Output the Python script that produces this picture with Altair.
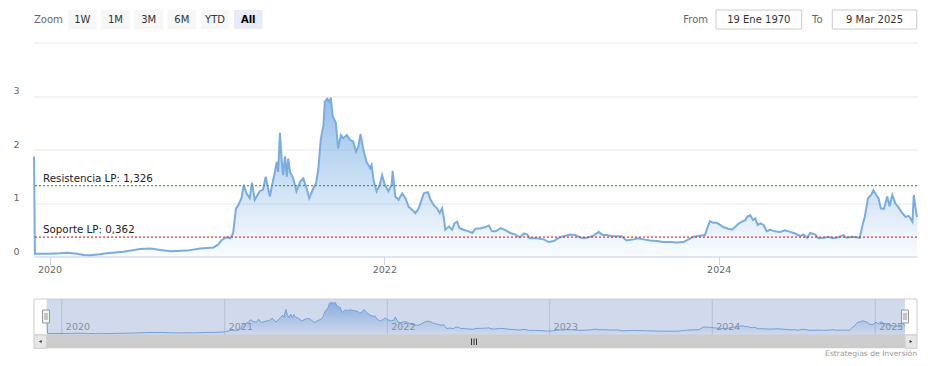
import altair as alt
import pandas as pd

# ---------------- data ----------------
dates = [
    "2019-11-28", "2019-11-30", "2020-01-02", "2020-01-24", "2020-02-08", "2020-03-01", "2020-03-16",
    "2020-03-30", "2020-04-20", "2020-05-05", "2020-06-10", "2020-07-17", "2020-08-08", "2020-08-30",
    "2020-09-21", "2020-10-27", "2020-11-25", "2020-12-24", "2021-01-03", "2021-01-11", "2021-01-22",
    "2021-01-29", "2021-02-02", "2021-02-05", "2021-02-11", "2021-02-16", "2021-02-23", "2021-02-28",
    "2021-03-06", "2021-03-13", "2021-03-18", "2021-03-24", "2021-04-04", "2021-04-11", "2021-04-17",
    "2021-04-21", "2021-04-26", "2021-05-01", "2021-05-07", "2021-05-11", "2021-05-14", "2021-05-18",
    "2021-05-22", "2021-05-25", "2021-05-29", "2021-06-02", "2021-06-05", "2021-06-09", "2021-06-16",
    "2021-06-23", "2021-07-01", "2021-07-08", "2021-07-15", "2021-07-21", "2021-07-30", "2021-08-05",
    "2021-08-10", "2021-08-15", "2021-08-21", "2021-08-24", "2021-08-29", "2021-09-03", "2021-09-06",
    "2021-09-10", "2021-09-17", "2021-09-22", "2021-09-28", "2021-10-03", "2021-10-11", "2021-10-18",
    "2021-10-25", "2021-10-31", "2021-11-05", "2021-11-10", "2021-11-16", "2021-11-23", "2021-12-01",
    "2021-12-04", "2021-12-09", "2021-12-15", "2021-12-22", "2021-12-27", "2022-01-02", "2022-01-10",
    "2022-01-17", "2022-01-19", "2022-01-25", "2022-02-01", "2022-02-09", "2022-02-16", "2022-02-23",
    "2022-03-03", "2022-03-10", "2022-03-17", "2022-03-28", "2022-04-06", "2022-04-12", "2022-04-19",
    "2022-04-26", "2022-05-02", "2022-05-07", "2022-05-11", "2022-05-14", "2022-05-22", "2022-05-29",
    "2022-06-03", "2022-06-09", "2022-06-14", "2022-06-23", "2022-07-04", "2022-07-12", "2022-07-19",
    "2022-07-30", "2022-08-10", "2022-08-17", "2022-08-24", "2022-09-01", "2022-09-12", "2022-09-23",
    "2022-10-03", "2022-10-14", "2022-10-24", "2022-11-02", "2022-11-09", "2022-11-14", "2022-11-30",
    "2022-12-15", "2022-12-26", "2023-01-06", "2023-01-17", "2023-01-28", "2023-02-11", "2023-02-21",
    "2023-03-04", "2023-03-12", "2023-03-23", "2023-04-03", "2023-04-14", "2023-04-22", "2023-05-02",
    "2023-05-13", "2023-05-24", "2023-06-03", "2023-06-14", "2023-06-29", "2023-07-10", "2023-07-21",
    "2023-08-04", "2023-08-19", "2023-09-02", "2023-09-17", "2023-10-01", "2023-10-16", "2023-10-27",
    "2023-11-07", "2023-11-21", "2023-12-02", "2023-12-07", "2023-12-13", "2023-12-20", "2023-12-28",
    "2024-01-04", "2024-01-11", "2024-01-22", "2024-01-30", "2024-02-06", "2024-02-13", "2024-02-21",
    "2024-02-28", "2024-03-04", "2024-03-10", "2024-03-16", "2024-03-21", "2024-03-26", "2024-04-01",
    "2024-04-08", "2024-04-15", "2024-04-22", "2024-05-03", "2024-05-14", "2024-05-25", "2024-06-05",
    "2024-06-16", "2024-06-27", "2024-07-04", "2024-07-12", "2024-07-19", "2024-07-30", "2024-08-06",
    "2024-08-17", "2024-08-28", "2024-09-07", "2024-09-18", "2024-09-29", "2024-10-06", "2024-10-17",
    "2024-10-28", "2024-11-04", "2024-11-10", "2024-11-15", "2024-11-22", "2024-11-29", "2024-12-04",
    "2024-12-10", "2024-12-15", "2024-12-20", "2024-12-27", "2025-01-03", "2025-01-08", "2025-01-14",
    "2025-01-21", "2025-01-29", "2025-02-05", "2025-02-12", "2025-02-19", "2025-02-27", "2025-03-02",
    "2025-03-05", "2025-03-09",
]
prices = [
    1.87, 0.05, 0.05, 0.06, 0.07, 0.05, 0.03,
    0.025, 0.04, 0.06, 0.09, 0.14, 0.15, 0.12,
    0.10, 0.11, 0.15, 0.17, 0.22, 0.31, 0.36,
    0.34, 0.38, 0.45, 0.90, 0.96, 1.09, 1.34,
    1.18, 1.09, 1.38, 1.06, 1.22, 1.25, 1.49,
    1.31, 1.12, 1.34, 1.58, 1.77, 1.58, 2.31,
    1.77, 1.52, 1.87, 1.49, 1.83, 1.58, 1.46,
    1.22, 1.40, 1.46, 1.28, 1.09, 1.28, 1.37,
    1.65, 2.18, 2.46, 2.89, 2.95, 2.89, 2.97,
    2.63, 2.50, 2.02, 2.27, 2.21, 2.27, 2.18,
    2.15, 1.96, 2.05, 2.29, 2.00, 1.77, 1.65,
    1.71, 1.40, 1.22, 1.34, 1.52, 1.34, 1.22,
    1.34, 1.60, 1.12, 1.06, 1.18, 1.09, 0.93,
    0.87, 0.81, 0.90, 1.18, 1.20, 1.06, 0.96,
    0.90, 0.81, 0.90, 0.71, 0.50, 0.56, 0.50,
    0.62, 0.65, 0.53, 0.50, 0.47, 0.44, 0.52,
    0.53, 0.55, 0.58, 0.47, 0.47, 0.53, 0.49,
    0.44, 0.41, 0.36, 0.43, 0.41, 0.34, 0.34,
    0.32, 0.27, 0.29, 0.35, 0.38, 0.41, 0.40,
    0.36, 0.34, 0.36, 0.39, 0.46, 0.40, 0.40,
    0.38, 0.38, 0.38, 0.30, 0.32, 0.34, 0.32,
    0.30, 0.29, 0.27, 0.27, 0.26, 0.27, 0.32,
    0.37, 0.39, 0.40, 0.53, 0.66, 0.63, 0.63,
    0.59, 0.55, 0.52, 0.50, 0.55, 0.61, 0.65,
    0.68, 0.75, 0.77, 0.68, 0.71, 0.59, 0.62,
    0.59, 0.47, 0.50, 0.47, 0.46, 0.49, 0.46,
    0.43, 0.38, 0.41, 0.35, 0.44, 0.41, 0.34,
    0.35, 0.37, 0.34, 0.36, 0.40, 0.35, 0.37,
    0.36, 0.35, 0.59, 0.74, 1.09, 1.15, 1.24,
    1.15, 1.09, 0.90, 0.89, 1.12, 0.94, 1.15,
    0.99, 0.90, 0.81, 0.74, 0.76, 0.65, 1.15,
    0.95, 0.74,
]
resistance = 1.326
support = 0.362
resistance_label = "Resistencia LP: 1,326"
support_label = "Soporte LP: 0,362"
y_ticks = [0, 1, 2, 3, 4]
main_years = [2020, 2022, 2024]
nav_years = [2020, 2021, 2022, 2023, 2024, 2025]
buttons = ["1W", "1M", "3M", "6M", "YTD", "All"]
from_date = "19 Ene 1970"
to_date = "9 Mar 2025"
credits = "Estrategias de Inversión"

df = pd.DataFrame({"date": dates, "price": prices})
nav_df = pd.DataFrame({"year": [f"{y}-01-01" for y in nav_years]})
one = pd.DataFrame({"a": [0]})

FONT = "DejaVu Sans"
W, H = 883, 214

start = alt.DateTime(year=2019, month=11, date=28, utc=True)
end = alt.DateTime(year=2025, month=3, date=9, utc=True)
xscale = alt.Scale(type="utc", domain=[start, end])
yscale = alt.Scale(domain=[0, 4])

grad = alt.Gradient(
    gradient="linear",
    stops=[alt.GradientStop(color="rgba(124,176,228,0.04)", offset=0),
           alt.GradientStop(color="rgba(124,176,228,0.8)", offset=1)],
    x1=1, x2=1, y1=1, y2=0,
)
LINE = "#79ade2"

xaxis = alt.Axis(
    values=[alt.DateTime(year=y, month=1, date=1, utc=True) for y in main_years],
    labelExpr="utcFormat(datum.value, '%Y')", grid=False, domainColor="#ccd6eb",
    tickColor="#ccd6eb", tickSize=8, labelColor="#666666", labelFontSize=9.5,
    labelFont=FONT, labelPadding=0, title=None,
)
yaxis = alt.Axis(
    values=y_ticks, grid=True, gridColor="#e6e6e6", domain=False, ticks=False,
    labelExpr="datum.value == 4 ? '' : format(datum.value, 'd')", labelPadding=15,
    labelColor="#666666", labelFontSize=9.5, labelFont=FONT, labelBaseline="middle",
    labelOffset=-5.5, title=None,
)

base = alt.Chart(df)
area = base.mark_area(color=grad).encode(
    x=alt.X("date:T", scale=xscale, axis=xaxis), y=alt.Y("price:Q", scale=yscale, axis=yaxis))
line = base.mark_line(color=LINE, strokeWidth=2).encode(x="date:T", y="price:Q")

res_rule = alt.Chart(one).mark_rule(color="#3aaa3a", strokeDash=[2, 2], strokeWidth=1.3).encode(
    y=alt.datum(resistance))
sup_rule = alt.Chart(one).mark_rule(color="#e03535", strokeDash=[2, 2], strokeWidth=1.3).encode(
    y=alt.datum(support))
res_text = alt.Chart(one).mark_text(text=resistance_label, align="left", baseline="middle",
                                    dy=-6.5, font=FONT, fontSize=10.3, color="#222222").encode(
    x=alt.value(9), y=alt.datum(resistance))
sup_text = alt.Chart(one).mark_text(text=support_label, align="left", baseline="middle",
                                    dy=-6.8, font=FONT, fontSize=10.3, color="#222222").encode(
    x=alt.value(9), y=alt.datum(support))

main = alt.layer(area, line, res_rule, sup_rule, res_text, sup_text)

# ---------------- navigator ----------------
NAV_TOP, NAV_BOT = 256.5, 292.5
nxscale = alt.Scale(type="utc", domain=[start, end], range=[12.7, 871])
nyscale = alt.Scale(domain=[0, 3], range=[291.5, 259.5])

nav_grid = alt.Chart(nav_df).mark_rule(color="#d8d8d8", strokeWidth=1).encode(
    x=alt.X("year:T", scale=nxscale, axis=None), y=alt.value(NAV_TOP), y2=alt.value(NAV_BOT))
nav_area = alt.Chart(df).mark_area(color=grad).encode(
    x=alt.X("date:T", scale=nxscale, axis=None), y=alt.Y("price:Q", scale=nyscale, axis=None))
nav_line = alt.Chart(df).mark_line(color=LINE, strokeWidth=1).encode(
    x=alt.X("date:T", scale=nxscale, axis=None), y=alt.Y("price:Q", scale=nyscale, axis=None))
nav_mask = alt.Chart(one).mark_rect(fill="rgba(102,133,194,0.3)").encode(
    x=alt.value(12.7), x2=alt.value(871), y=alt.value(NAV_TOP), y2=alt.value(NAV_BOT))
nav_labels = alt.Chart(nav_df).mark_text(align="left", baseline="middle", dx=4, font=FONT,
                                         fontSize=9.5, color="#8a8f9a").encode(
    x=alt.X("year:T", scale=nxscale, axis=None), y=alt.value(284.5),
    text=alt.Text("year:T", timeUnit="utcyear", format="%Y"))

nav = alt.layer(nav_grid, nav_area, nav_line, nav_mask, nav_labels)


# ---------------- decorations ----------------
def rect(x1, x2, y1, y2, fill, stroke=None):
    kw = {"fill": fill}
    if stroke:
        kw["stroke"] = stroke
        kw["strokeWidth"] = 1
    return alt.Chart(one).mark_rect(**kw).encode(
        x=alt.value(x1), x2=alt.value(x2), y=alt.value(y1), y2=alt.value(y2))


def text(s, x, y, size=10, color="#333333", align="left", weight="normal"):
    return alt.Chart(one).mark_text(text=s, align=align, baseline="middle", font=FONT,
                                    fontSize=size, color=color, fontWeight=weight).encode(
        x=alt.value(x), y=alt.value(y))


def vline(x, y1, y2, color):
    return alt.Chart(one).mark_rule(color=color, strokeWidth=1).encode(
        x=alt.value(x), y=alt.value(y1), y2=alt.value(y2))


deco = [text("Zoom", 0, -23, color="#666666")]
for i, b in enumerate(buttons):
    x0 = 34 + i * 33.2
    sel = b == "All"
    deco.append(rect(x0, x0 + 28.5, -32.5, -13.5, "#e6ebf5" if sel else "#f7f7f7"))
    deco.append(text(b, x0 + 14.25, -23, align="center", color="#000000" if sel else "#333333",
                     weight="bold" if sel else "normal"))
deco += [
    text("From", 649.3, -23, color="#666666"),
    rect(682, 767.7, -32.5, -13.5, "#ffffff", "#cccccc"),
    text(from_date, 724.8, -23, align="center"),
    text("To", 778, -23, color="#666666"),
    rect(798.3, 882.7, -32.5, -13.5, "#ffffff", "#cccccc"),
    text(to_date, 840.5, -23, align="center"),
    # navigator outline
    rect(0, 883, NAV_TOP, NAV_BOT, "rgba(0,0,0,0)", "#cccccc"),
    # handles
    rect(8.5, 15.5, 267.5, 280.5, "#f2f2f2", "#999999"),
    vline(11, 270.5, 277.5, "#999999"), vline(13, 270.5, 277.5, "#999999"),
    rect(867.5, 874.5, 267.5, 280.5, "#f2f2f2", "#999999"),
    vline(870, 270.5, 277.5, "#999999"), vline(872, 270.5, 277.5, "#999999"),
    # scrollbar
    rect(0, 883, 292.5, 305.8, "#f2f2f2"),
    rect(12.7, 871, 292.5, 305.8, "#cccccc"),
    rect(0, 12.7, 292.5, 305.8, "#e6e6e6", "#cccccc"),
    rect(871, 883, 292.5, 305.8, "#e6e6e6", "#cccccc"),
    alt.Chart(one).mark_point(shape="triangle-left", filled=True, size=10, color="#333333",
                              opacity=1).encode(x=alt.value(6.3), y=alt.value(299)),
    alt.Chart(one).mark_point(shape="triangle-right", filled=True, size=10, color="#333333",
                              opacity=1).encode(x=alt.value(877), y=alt.value(299)),
    vline(437.5, 296, 302.5, "#333333"), vline(440, 296, 302.5, "#333333"),
    vline(442.5, 296, 302.5, "#333333"),
    text(credits, 883, 311, size=7.6, color="#999999", align="right"),
]
deco_layer = alt.layer(*deco)

chart = alt.layer(main, nav, deco_layer).resolve_scale(
    x="independent", y="independent"
).properties(
    width=W, height=H,
    autosize=alt.AutoSizeParams(type="none"),
    padding={"left": 26, "top": 34.5, "right": 15, "bottom": 101.5},
).configure_view(stroke=None)

chart.save("out.html", embed_options={"renderer": "svg", "actions": False})
